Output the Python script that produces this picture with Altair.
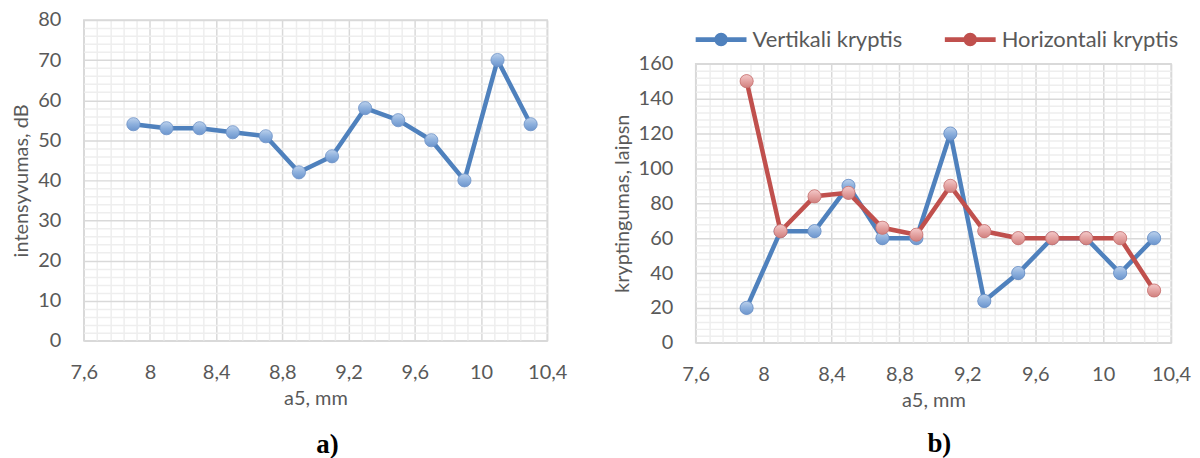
import altair as alt
import pandas as pd

# ---- data ----
x_mm = [7.9, 8.1, 8.3, 8.5, 8.7, 8.9, 9.1, 9.3, 9.5, 9.7, 9.9, 10.1, 10.3]
intensity_db = [54, 53, 53, 52, 51, 42, 46, 58, 55, 50, 40, 70, 54]
vertical = [20, 64, 64, 90, 60, 60, 120, 24, 40, 60, 60, 40, 60]
horizontal = [150, 64, 84, 86, 66, 62, 90, 64, 60, 60, 60, 60, 30]
series_names = ["Vertikali kryptis", "Horizontali kryptis"]

x_ticks = [7.6, 8.0, 8.4, 8.8, 9.2, 9.6, 10.0, 10.4]
y_ticks_a = [0, 10, 20, 30, 40, 50, 60, 70, 80]
y_ticks_b = [0, 20, 40, 60, 80, 100, 120, 140, 160]
x_minor = [round(7.6 + 0.08 * i, 2) for i in range(36) if i % 5 != 0]
y_minor_a = [v for v in range(0, 81, 2) if v % 10]
y_minor_b = [v for v in range(0, 161, 4) if v % 20]

# ---- styles ----
FONT = "Lato"
GRAY = "#595959"
MAJOR = "#D9D9D9"
MINOR = "#EEEEEE"
BLUE = "#4F81BD"
RED = "#C0504D"
FS = 20

blue_grad = alt.LinearGradient(
    gradient="linear", x1=0, y1=0, x2=0, y2=1,
    stops=[alt.GradientStop(color="#BCD1EC", offset=0),
           alt.GradientStop(color="#8DB0DD", offset=0.5),
           alt.GradientStop(color="#6C95CD", offset=1)])
red_grad = alt.LinearGradient(
    gradient="linear", x1=0, y1=0, x2=0, y2=1,
    stops=[alt.GradientStop(color="#F4CACA", offset=0),
           alt.GradientStop(color="#E4A3A2", offset=0.5),
           alt.GradientStop(color="#D07F7D", offset=1)])

label_expr = "replace(format(datum.value, '.2~f'), '.', ',')"

def major_x(title):
    return alt.Axis(values=x_ticks, labelExpr=label_expr, grid=True, gridColor=MAJOR,
                    gridWidth=1.5, ticks=False, tickSize=0, domain=False, orient="bottom",
                    labelFont=FONT, labelFontSize=FS, labelColor=GRAY, labelPadding=22,
                    labelFlush=False, labelOverlap=False,
                    title=title, titleFont=FONT, titleFontSize=FS, titleFontWeight="normal",
                    titleColor=GRAY, titlePadding=6)

def major_y(values, title):
    return alt.Axis(values=values, grid=True, gridColor=MAJOR, gridWidth=1.5,
                    ticks=False, tickSize=0, domain=False, orient="left",
                    labelFont=FONT, labelFontSize=FS, labelColor=GRAY, labelPadding=23,
                    labelFlush=False, labelOverlap=False,
                    title=title, titleFont=FONT, titleFontSize=FS, titleFontWeight="normal",
                    titleColor=GRAY, titlePadding=6)

def minor_axis(values, orient):
    return alt.Axis(values=values, grid=True, gridColor=MINOR, gridWidth=1.5,
                    ticks=False, tickSize=0, domain=False, labels=False, title=None,
                    orient=orient)

xscale = alt.Scale(domain=[7.6, 10.4], nice=False, zero=False)

# ---------------- panel a ----------------
df_a = pd.DataFrame({"x": x_mm, "y": intensity_db})
yscale_a = alt.Scale(domain=[0, 80], nice=False)

base_a = alt.Chart(df_a)
minor_a = base_a.mark_point(opacity=0).encode(
    x=alt.X("x:Q", scale=xscale, axis=minor_axis(x_minor, "top")),
    y=alt.Y("y:Q", scale=yscale_a, axis=minor_axis(y_minor_a, "right")),
)
xa = alt.X("x:Q", scale=xscale, axis=major_x("a5, mm"))
ya = alt.Y("y:Q", scale=yscale_a, axis=major_y(y_ticks_a, "intensyvumas, dB"))
line_a = base_a.mark_line(color=BLUE, strokeWidth=4.5, strokeJoin="round").encode(x=xa, y=ya)
pts_a = base_a.mark_circle(fill=blue_grad, stroke="#6E93C8", strokeWidth=0.8,
                           size=175, opacity=1).encode(x=xa, y=ya)

panel_a = alt.layer(minor_a, alt.layer(line_a, pts_a)).resolve_axis(
    x="independent", y="independent"
).properties(
    width=465, height=322,
    title=alt.TitleParams("a)", orient="bottom", frame="group", anchor="middle",
                          font="Liberation Serif", fontSize=27, fontWeight="bold",
                          color="black", offset=24, dx=12,
                          subtitle=" ", subtitleFontSize=24, subtitlePadding=18),
)

# ---------------- panel b ----------------
df_b = pd.DataFrame({
    "x": x_mm + x_mm,
    "y": vertical + horizontal,
    "series": [series_names[0]] * len(x_mm) + [series_names[1]] * len(x_mm),
})
yscale_b = alt.Scale(domain=[0, 160], nice=False)

legend_symbol = ("M-1,-0.092H1V0.092H-1Z "
                 "M0.265,0A0.265,0.265,0,1,1,-0.265,0A0.265,0.265,0,1,1,0.265,0Z")
color_b = alt.Color(
    "series:N",
    scale=alt.Scale(domain=series_names, range=[BLUE, RED]),
    legend=alt.Legend(orient="top", offset=13, direction="horizontal",
                      title=None, symbolType=legend_symbol, symbolSize=2601,
                      symbolStrokeWidth=0, labelFont=FONT, labelFontSize=22,
                      labelColor=GRAY, labelOffset=6, columnPadding=42, labelLimit=400),
)

base_b = alt.Chart(df_b)
minor_b = base_b.mark_point(opacity=0).encode(
    x=alt.X("x:Q", scale=xscale, axis=minor_axis(x_minor, "top")),
    y=alt.Y("y:Q", scale=yscale_b, axis=minor_axis(y_minor_b, "right")),
)
xb = alt.X("x:Q", scale=xscale, axis=major_x("a5, mm"))
yb = alt.Y("y:Q", scale=yscale_b, axis=major_y(y_ticks_b, "kryptingumas, laipsn"))

layers_b = []
for name, grad, edge in [(series_names[0], blue_grad, "#6E93C8"),
                         (series_names[1], red_grad, "#C97A78")]:
    sub = base_b.transform_filter(alt.datum.series == name)
    layers_b.append(sub.mark_line(strokeWidth=4.5, strokeJoin="round").encode(
        x=xb, y=yb, color=color_b))
    layers_b.append(sub.mark_circle(size=175, opacity=1).encode(
        x=xb, y=yb, color=color_b))
    layers_b.append(sub.mark_circle(fill=grad, stroke=edge, strokeWidth=0.8,
                                    size=175, opacity=1).encode(x=xb, y=yb))

panel_b = alt.layer(minor_b, alt.layer(*layers_b)).resolve_axis(
    x="independent", y="independent"
).properties(
    width=477, height=280,
    title=alt.TitleParams("b)", orient="bottom", frame="group", anchor="middle",
                          font="Liberation Serif", fontSize=27, fontWeight="bold",
                          color="black", offset=21, dx=6),
)

chart = alt.hconcat(panel_a, panel_b, spacing=43, center=True).resolve_scale(
    color="independent"
).resolve_legend(color="independent").properties(
    padding={"left": 3, "top": 0, "right": 0, "bottom": 0}
).configure_view(stroke=MAJOR, strokeWidth=1.5)

chart.save("out.html", embed_options={"renderer": "svg", "actions": False})
